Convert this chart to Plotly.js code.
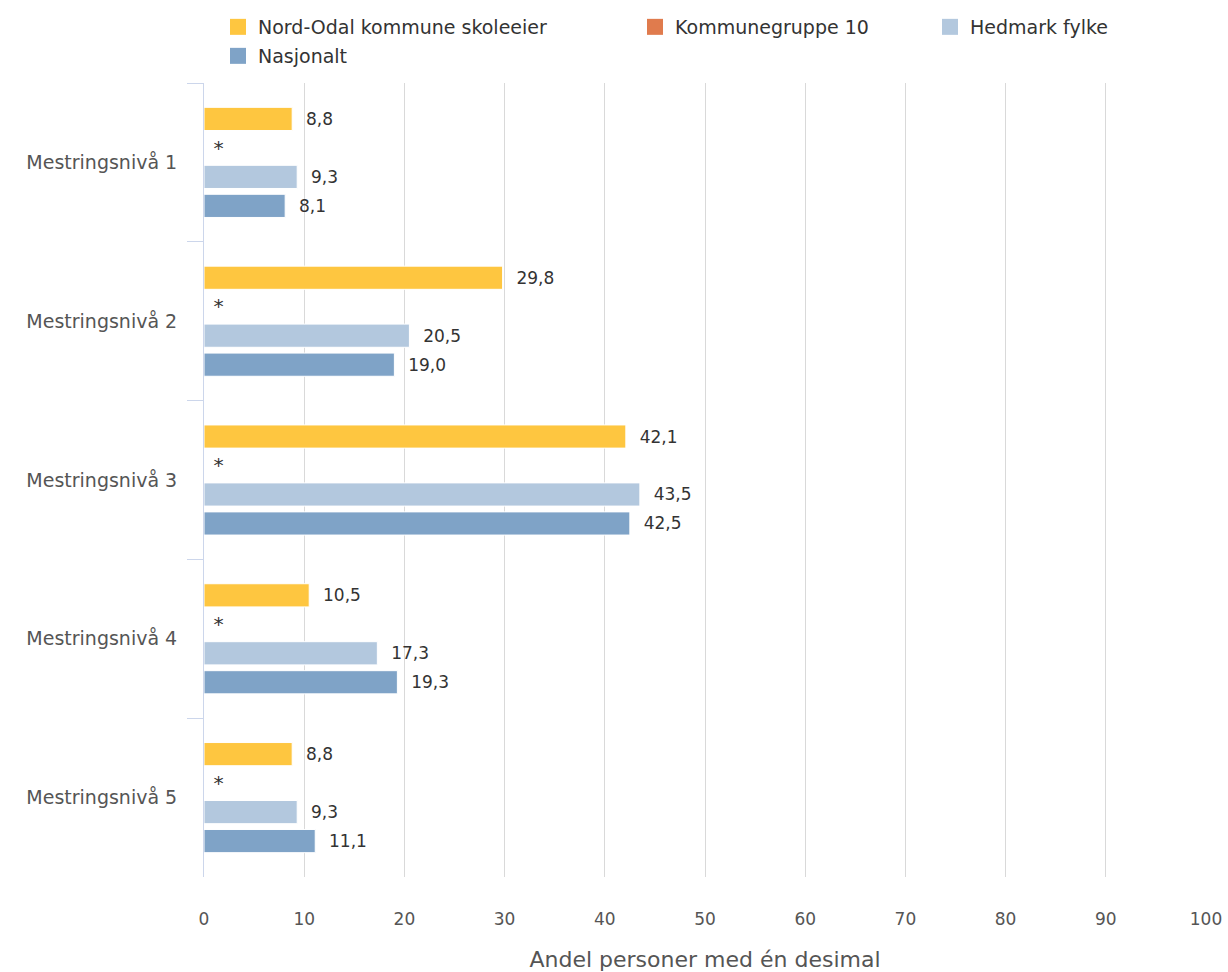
<!DOCTYPE html>
<html>
<head>
<meta charset="utf-8">
<script src="https://cdn.plot.ly/plotly-3.0.1.min.js"></script>
<style>html,body{margin:0;padding:0;background:#fff;}#chart{width:1228px;height:972px;}</style>
</head>
<body>
<div id="chart"></div>
<script>
var categories = ["Mestringsnivå 1", "Mestringsnivå 2", "Mestringsnivå 3", "Mestringsnivå 4", "Mestringsnivå 5"];
var seriesNames = ["Nord-Odal kommune skoleeier", "Kommunegruppe 10", "Hedmark fylke", "Nasjonalt"];
var nordOdal = [8.8, 29.8, 42.1, 10.5, 8.8];
var kommunegruppe = [0, 0, 0, 0, 0];
var kommunegruppeLabels = ["*", "*", "*", "*", "*"];
var hedmark = [9.3, 20.5, 43.5, 17.3, 9.3];
var nasjonalt = [8.1, 19.0, 42.5, 19.3, 11.1];
var xTicks = [0, 10, 20, 30, 40, 50, 60, 70, 80, 90, 100];

var colors = ["#fec640", "#e07b4d", "#b3c8de", "#7fa3c7"];
var legendIds = ['legend', 'legend2', 'legend3', 'legend4'];
var NB = '\u00a0';
function fmt(v){ return NB + NB + v.toFixed(1).replace('.', ','); }
var font = "'DejaVu Sans', sans-serif";

function mk(name, vals, color, labels, tfont){
  return {
    type: 'bar', orientation: 'h', name: name,
    y: categories, x: vals,
    marker: {color: color, line: {color: '#ffffff', width: 1}},
    text: labels || vals.map(fmt),
    textposition: 'outside',
    textfont: tfont || {family: font, size: 17, color: '#333333'},
    cliponaxis: false,
    showlegend: false,
    hoverinfo: 'x+name'
  };
}
var data = [
  mk(seriesNames[0], nordOdal, colors[0]),
  mk(seriesNames[1], kommunegruppe, colors[1], kommunegruppeLabels.map(function(s){return NB + s;}), {family: font, size: 21, color: '#333333'}),
  mk(seriesNames[2], hedmark, colors[2]),
  mk(seriesNames[3], nasjonalt, colors[3])
];
// legend-only entries with larger square swatches
seriesNames.forEach(function(n, i){
  data.push({
    type: 'scatter', mode: 'markers', name: n, x: [null], y: [null],
    marker: {symbol: 'square', size: 16, color: colors[i]},
    legend: legendIds[i], showlegend: true, hoverinfo: 'skip'
  });
});

var legendFont = {family: font, size: 19, color: '#333333'};
function leg(xpx, ypx){
  return {orientation: 'h', x: (xpx - 204) / 1002, xanchor: 'left',
          y: 1 - ypx / 972, yref: 'container', yanchor: 'middle',
          traceorder: 'normal', font: legendFont, itemclick: false,
          bgcolor: 'rgba(0,0,0,0)'};
}
var layout = {
  width: 1228, height: 972,
  margin: {l: 204, r: 22, t: 83, b: 95, autoexpand: false},
  paper_bgcolor: '#ffffff', plot_bgcolor: '#ffffff',
  barmode: 'group', bargap: 0.27, bargroupgap: 0.2,
  font: {family: font, size: 17, color: '#555555'},
  showlegend: true,
  legend: leg(218, 27),
  legend2: leg(635, 27),
  legend3: leg(930, 27),
  legend4: leg(218, 56),
  xaxis: {
    range: [0, 100], tickvals: xTicks, ticktext: xTicks.map(String),
    showgrid: true, gridcolor: '#d9d9d9', gridwidth: 1,
    zeroline: false, showline: false, ticks: '',
    tickfont: {family: font, size: 17, color: '#555555'},
    ticklabelstandoff: 30,
    title: {text: 'Andel personer med én desimal', font: {family: font, size: 22, color: '#555555'}, standoff: 24}
  },
  yaxis: {
    autorange: 'reversed', type: 'category',
    showline: true, linecolor: '#ccd6eb', linewidth: 1,
    ticks: 'outside', tickson: 'boundaries', ticklen: 16, tickcolor: '#ccd6eb',
    showgrid: false, zeroline: false,
    ticklabelstandoff: 22,
    tickfont: {family: font, size: 19, color: '#555555'}
  }
};
Plotly.newPlot('chart', data, layout, {displayModeBar: false, staticPlot: true});
</script>
</body>
</html>
